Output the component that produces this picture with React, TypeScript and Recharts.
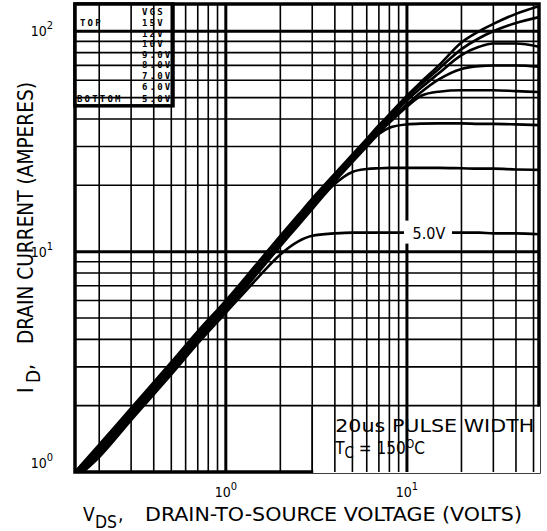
import React from 'react';
import { LineChart, Line, XAxis, YAxis, ReferenceLine, ReferenceArea, ReferenceDot } from 'recharts';

// drain-to-source voltage samples (volts)
const VDS = [0.147, 0.2, 0.3, 0.5, 0.7, 1, 1.5, 2, 2.5, 3, 4, 5, 6, 7, 8, 10, 12, 15, 20, 25, 30, 40, 53.6];

// drain current (amperes) per gate voltage
const ID_15V = [1.0, 1.33, 1.95, 3.15, 4.35, 6.0, 8.9, 11.8, 14.6, 17.4, 22.6, 27.6, 32.5, 37.5, 42, 51, 59, 70, 89, 100, 108, 120, 130];
const ID_12V = [0.99, 1.31, 1.92, 3.1, 4.28, 5.9, 8.77, 11.6, 14.4, 17.1, 22.3, 27.2, 32, 36.9, 41.3, 50, 57.5, 67.5, 83, 93, 100, 109, 116];
const ID_10V = [0.98, 1.29, 1.89, 3.06, 4.22, 5.82, 8.63, 11.45, 14.2, 16.9, 21.9, 26.8, 31.5, 36, 40.4, 48.5, 55.5, 64.5, 78, 85, 88, 88, 85];
const ID_9V = [0.97, 1.27, 1.86, 3.01, 4.15, 5.73, 8.5, 11.27, 13.9, 16.6, 21.6, 26.3, 31, 35.4, 39.5, 46.5, 53, 60.5, 67.5, 69.5, 70, 70, 69];
const ID_8V = [0.96, 1.25, 1.83, 2.96, 4.09, 5.64, 8.37, 11.09, 13.7, 16.4, 21.2, 25.9, 30.4, 34.6, 38.5, 45.5, 51, 53.2, 54, 54, 54, 53.5, 53];
const ID_7V = [0.95, 1.23, 1.8, 2.91, 4.02, 5.55, 8.23, 10.9, 13.5, 16.1, 20.9, 25.5, 30, 34.2, 36.5, 37.8, 38.1, 38.2, 38.2, 38, 38, 37.8, 37.5];
const ID_6V = [0.94, 1.2, 1.76, 2.84, 3.92, 5.4, 8.0, 10.6, 13.1, 15.6, 20.3, 23, 23.7, 23.9, 24, 24, 24, 24, 23.9, 23.8, 23.8, 23.6, 23.5];
const ID_5V = [0.93, 1.17, 1.72, 2.77, 3.83, 5.28, 7.6, 9.7, 11.1, 11.8, 12.1, 12.2, 12.2, 12.2, 12.2, 12.2, 12.2, 12.2, 12.2, 12.2, 12.1, 12.1, 12.0];

const SERIES_KEYS = ['v15', 'v12', 'v10', 'v9', 'v8', 'v7', 'v6', 'v5'];
const SERIES_VALUES = [ID_15V, ID_12V, ID_10V, ID_9V, ID_8V, ID_7V, ID_6V, ID_5V];

const LEGEND_LEFT = ['TOP', '', '', '', '', '', '', 'BOTTOM'];
const LEGEND_RIGHT = ['15V', '12V', '10V', '9.0V', '8.0V', '7.0V', '6.0V', '5.0V'];

const X_DOMAIN = [0.147, 53.6];
const Y_DOMAIN = [1, 133];
const X_TICKS = [1, 10];
const Y_TICKS = [1, 10, 100];
const X_GRID = [0.2, 0.3, 0.4, 0.5, 0.6, 0.7, 0.8, 0.9, 1, 2, 3, 4, 5, 6, 7, 8, 9, 10, 20, 30, 40, 50];
const Y_GRID = [2, 3, 4, 5, 6, 7, 8, 9, 10, 20, 30, 40, 50, 60, 70, 80, 90, 100];
const DECADES = [1, 10, 100];

const data = VDS.map((v, i) => {
  const row: Record<string, number> = { v };
  SERIES_KEYS.forEach((k, j) => {
    row[k] = SERIES_VALUES[j][i];
  });
  return row;
});

const FONT = '"DejaVu Sans Condensed", "DejaVu Sans", sans-serif';
const MONO = '"DejaVu Sans Mono", monospace';

const pow = (v: number) => String(Math.round(Math.log10(v)));

const XTick = (props: any) => {
  const { x, y, payload } = props;
  return (
    <text x={x} y={y + 17} textAnchor="middle" fontFamily={FONT} fontSize={14} fill="#000">
      10<tspan dy={-7} fontSize={11}>{pow(payload.value)}</tspan>
    </text>
  );
};

const YTick = (props: any) => {
  const { x, y, payload } = props;
  const lift = payload.value === 1 ? -9 : 0;
  return (
    <text x={x - 14} y={y + 5 + lift} textAnchor="end" fontFamily={FONT} fontSize={14} fill="#000">
      10<tspan dy={-7} fontSize={11}>{pow(payload.value)}</tspan>
    </text>
  );
};

const LegendBox = (props: any) => {
  const { x, y, width, height } = props;
  const rowY = (i: number) => y + 22 + i * 10.6 + (i === 7 ? 2 : 0);
  const style = { fontFamily: MONO, fontWeight: 'bold' as const, fontSize: 9, letterSpacing: 2.2, fill: '#000' };
  return (
    <g>
      <rect x={x} y={y} width={width} height={height} fill="#fff" stroke="#000" strokeWidth={3.5} />
      <text x={x + 67} y={y + 11} style={style}>VGS</text>
      {LEGEND_RIGHT.map((t, i) => (
        <text key={t} x={x + 67} y={rowY(i)} style={style}>{t}</text>
      ))}
      {LEGEND_LEFT.map((t, i) =>
        t ? (
          <text key={t} x={x + (i === 0 ? 5 : 2)} y={rowY(i)} style={style}>{t}</text>
        ) : null
      )}
    </g>
  );
};

const NoteBox = (props: any) => {
  const { x, y, width, height } = props;
  return (
    <g>
      <rect x={x + 1} y={y + 1} width={width} height={height} fill="#fff" />
      <line x1={x} y1={y} x2={x} y2={y + height} stroke="#000" strokeWidth={1.5} />
      <text x={x + 23} y={y + 26} fontFamily={FONT} fontSize={17} fill="#000" textLength={199} lengthAdjust="spacingAndGlyphs">20us PULSE WIDTH</text>
      <text x={x + 23} y={y + 48} fontFamily={FONT} fontSize={17} fill="#000">
        T<tspan dy={4} fontSize={15}>C</tspan>
        <tspan dy={-4}> = 150</tspan>
        <tspan dy={-6} fontSize={12}>O</tspan>
        <tspan dy={6}>C</tspan>
      </text>
    </g>
  );
};

const CurveLabel = (props: any) => {
  const { cx, cy } = props;
  return (
    <g>
      <rect x={cx - 26} y={cy - 12} width={48} height={23} fill="#fff" />
      <text x={cx - 1} y={cy + 6} textAnchor="middle" fontFamily={FONT} fontSize={16} fill="#000">5.0V</text>
    </g>
  );
};

export default function App() {
  return (
    <div style={{ position: 'absolute', left: 0, top: 0, background: '#fff' }}>
      <LineChart width={547} height={531} data={data} margin={{ top: 4, right: 8, bottom: 0, left: 0 }}>
        <XAxis
          type="number"
          dataKey="v"
          scale="log"
          domain={X_DOMAIN}
          ticks={X_TICKS}
          tick={XTick}
          tickLine={false}
          axisLine={false}
          allowDataOverflow
          height={59}
        />
        <YAxis
          type="number"
          scale="log"
          domain={Y_DOMAIN}
          ticks={Y_TICKS}
          tick={YTick}
          tickLine={false}
          axisLine={false}
          allowDataOverflow
          width={75}
        />
        {X_GRID.map((g) => (
          <ReferenceLine key={`x${g}`} x={g} stroke="#000" strokeWidth={DECADES.includes(g) ? 3 : 1.6} />
        ))}
        {Y_GRID.map((g) => (
          <ReferenceLine key={`y${g}`} y={g} stroke="#000" strokeWidth={DECADES.includes(g) ? 3 : 1.6} />
        ))}
        <ReferenceArea x1={X_DOMAIN[0]} x2={X_DOMAIN[1]} y1={Y_DOMAIN[0]} y2={Y_DOMAIN[1]} fill="none" stroke="#000" strokeWidth={3.5} />
        {SERIES_KEYS.map((k) => (
          <Line key={k} dataKey={k} type="monotone" stroke="#000" strokeWidth={2.6} dot={false} isAnimationActive={false} />
        ))}
        <ReferenceArea x1={3} x2={X_DOMAIN[1]} y1={Y_DOMAIN[0]} y2={2} shape={NoteBox} />
        <ReferenceArea x1={X_DOMAIN[0]} x2={0.511} y1={45.9} y2={Y_DOMAIN[1]} shape={LegendBox} />
        <ReferenceDot x={13.4} y={12.2} r={0} shape={CurveLabel} />
        <text x={83} y={521} fontFamily={FONT} fontSize={19} fill="#000">V</text>
        <text x={95} y={528} fontFamily={FONT} fontSize={17} fill="#000" textLength={22} lengthAdjust="spacingAndGlyphs">DS</text>
        <text x={118} y={521} fontFamily={FONT} fontSize={19} fill="#000">,</text>
        <text x={145} y={521} fontFamily={FONT} fontSize={19} fill="#000" textLength={377} lengthAdjust="spacingAndGlyphs">DRAIN-TO-SOURCE VOLTAGE (VOLTS)</text>
        <g transform="translate(33, 393) rotate(-90)">
          <text x={0} y={0} fontFamily={FONT} fontSize={21} fill="#000">I</text>
          <text x={10} y={7} fontFamily={FONT} fontSize={19} fill="#000">D</text>
          <text x={23} y={0} fontFamily={FONT} fontSize={21} fill="#000">,</text>
          <text x={49} y={0} fontFamily={FONT} fontSize={21} fill="#000" textLength={262} lengthAdjust="spacingAndGlyphs">DRAIN CURRENT (AMPERES)</text>
        </g>
      </LineChart>
    </div>
  );
}
